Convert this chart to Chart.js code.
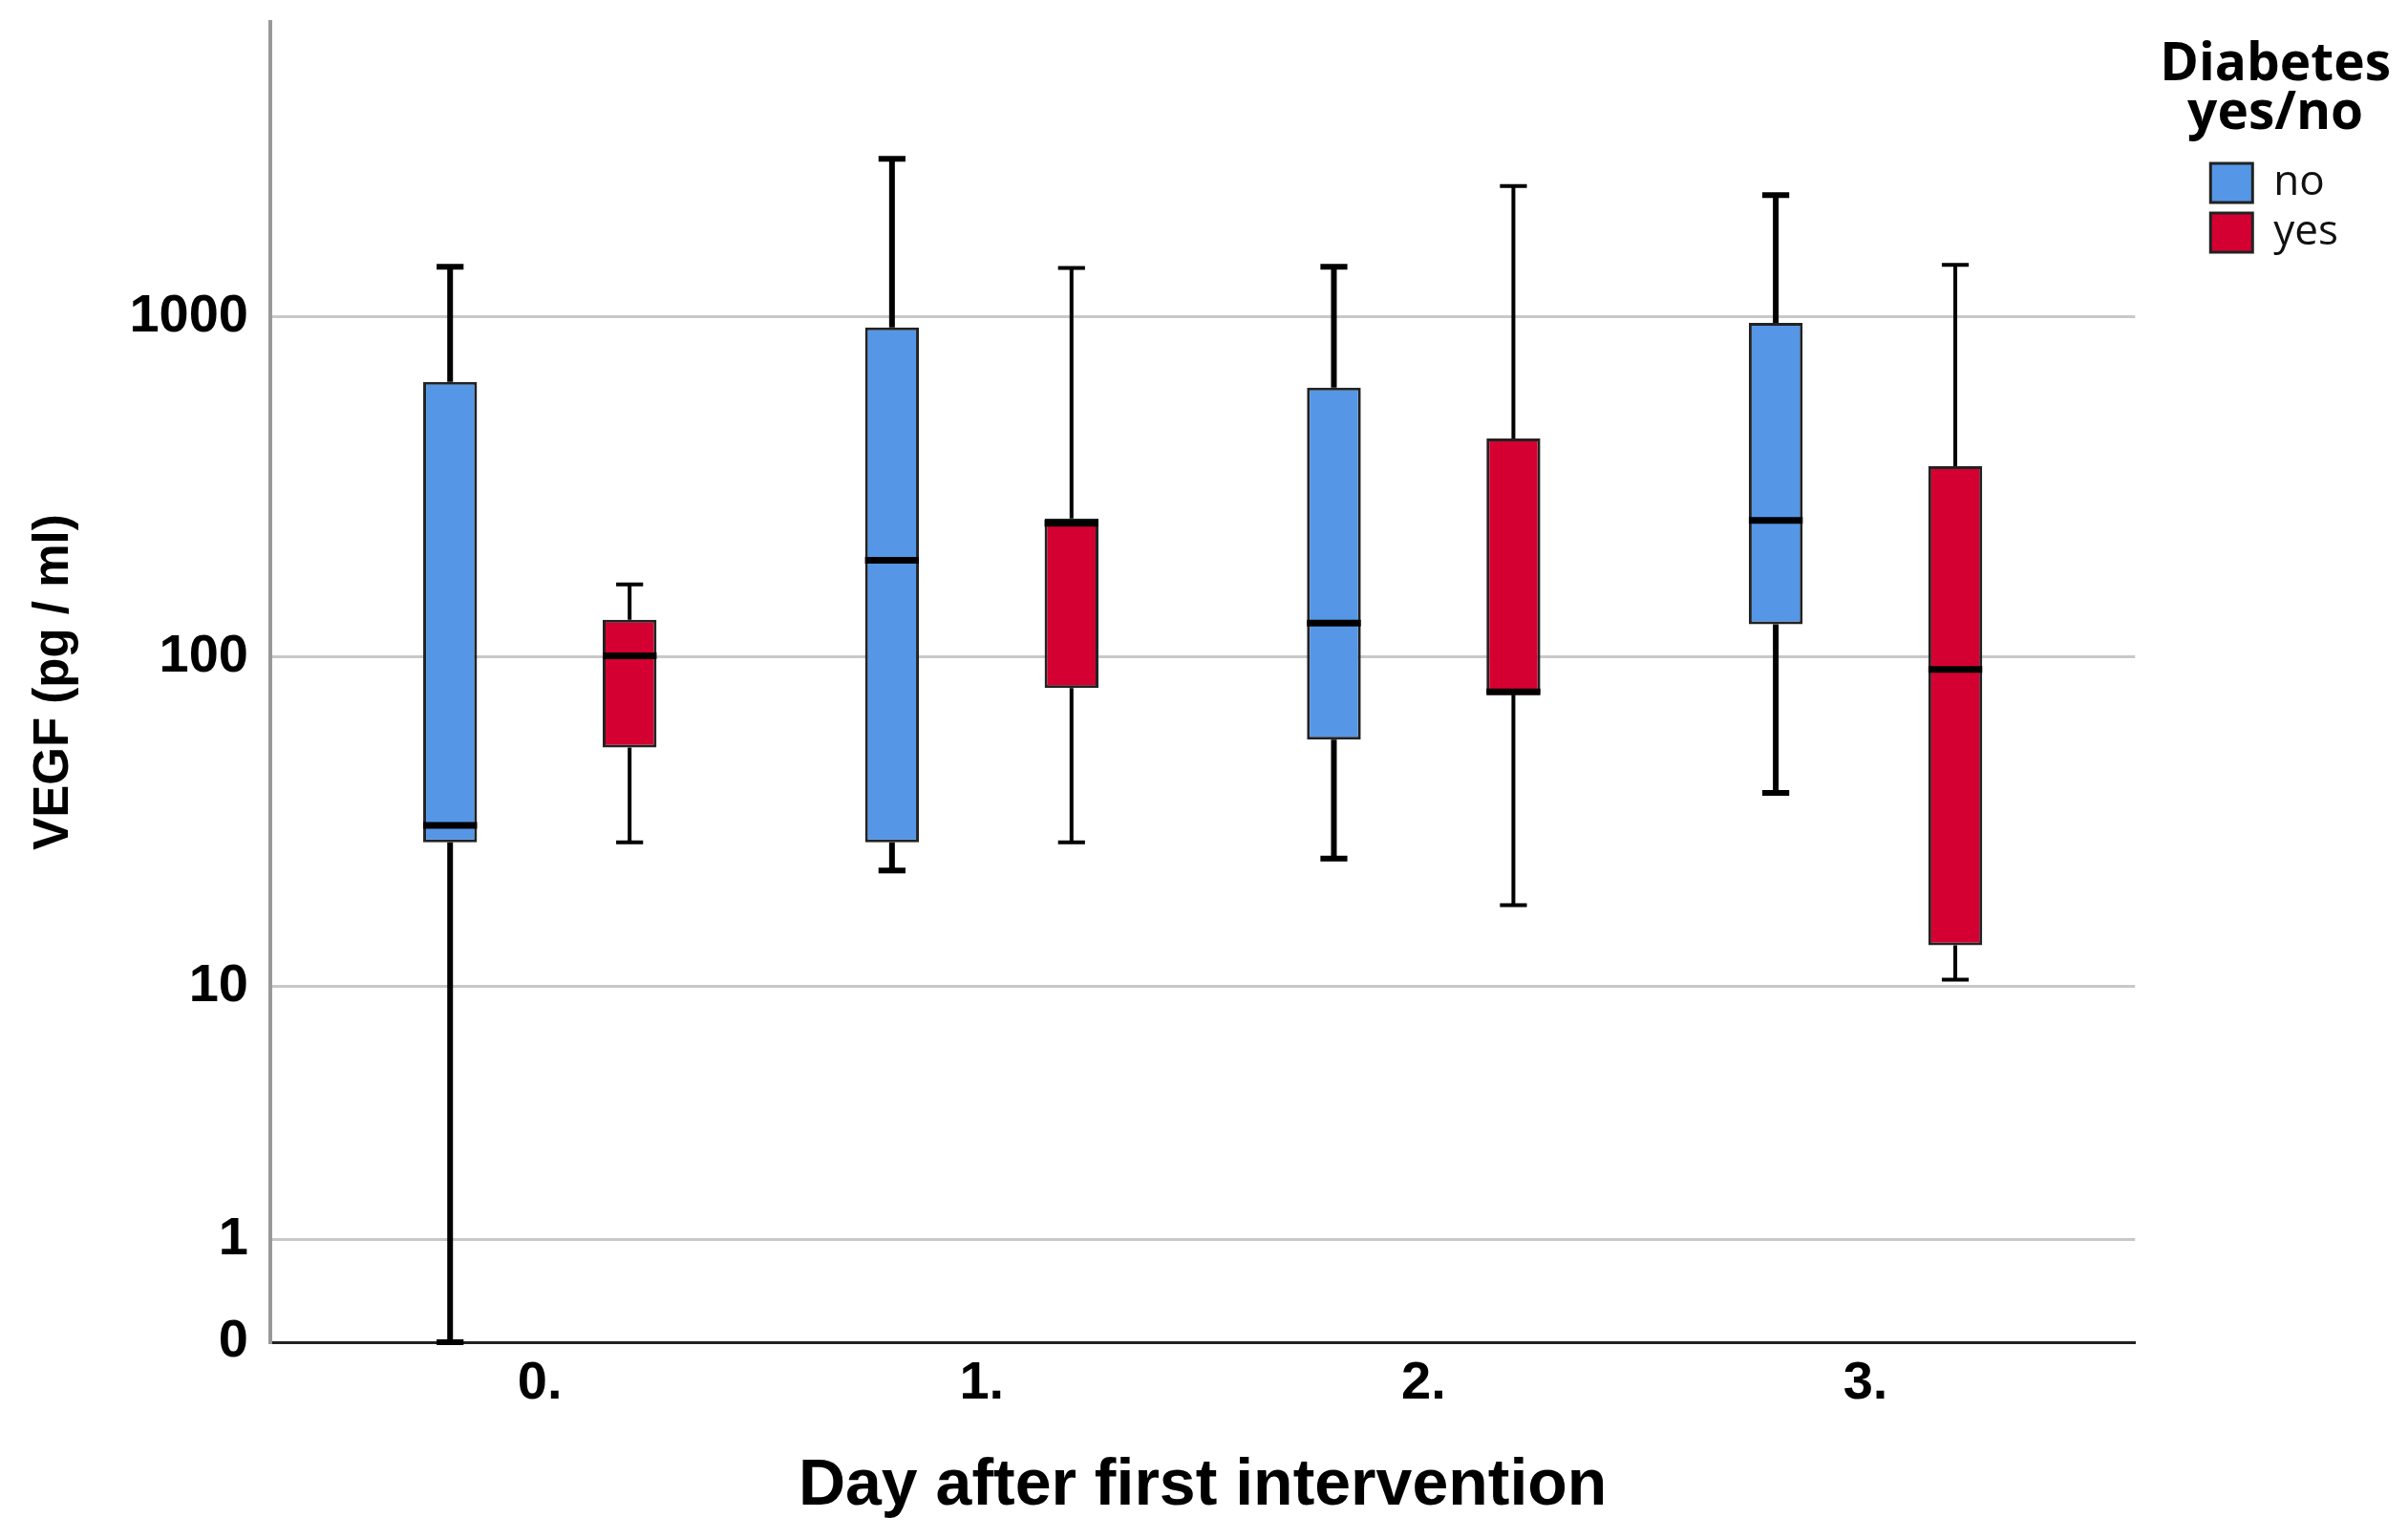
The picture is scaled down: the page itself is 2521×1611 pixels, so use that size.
<!DOCTYPE html>
<html>
<head>
<meta charset="utf-8">
<script src="https://cdn.jsdelivr.net/npm/chart.js@4.4.1/dist/chart.umd.min.js"></script>
<style>
  body { margin: 0; background: #fff; }
  #wrap { width: 2521px; height: 1611px; }
</style>
</head>
<body>
<div id="wrap"><canvas id="myChart" width="2521" height="1611"></canvas></div>
<script>
const days = ["0.", "1.", "2.", "3."];
const yTickValues = [0, 1, 10, 100, 1000];
const legendTitle = ["Diabetes", "yes/no"];

// Diabetes: no
const noMin = [0, 23, 25, 39.5];
const noQ1 = [28, 28, 57, 125];
const noMedian = [31.5, 193, 126, 253];
const noQ3 = [645, 930, 620, 960];
const noMax = [1400, 2900, 1400, 2270];

// Diabetes: yes
const yesMin = [28, 28, 18, 10.5];
const yesQ1 = [54, 81, 78, 13.5];
const yesMedian = [101, 248, 79, 92];
const yesQ3 = [129, 256, 440, 365];
const yesMax = [164, 1390, 2415, 1420];

// the axis is log10(v + 1), so 0 still fits on it
function tr(v) {
    return Math.log10(v + 1);
}

function boxData(q1, q3) {
    return days.map((d, i) => ({ x: i, y: [tr(q1[i]), tr(q3[i])] }));
}

const tickFont = { family: '"Liberation Sans", Arial, sans-serif', size: 56, weight: "bold" };

// whiskers, caps and medians
const whiskerPlugin = {
    id: "whiskers",
    afterDatasetsDraw(chart) {
        const ctx = chart.ctx;
        const yScale = chart.scales.y;
        chart.data.datasets.forEach((ds, di) => {
            const meta = chart.getDatasetMeta(di);
            meta.data.forEach((bar, i) => {
                const x = bar.x;
                const half = bar.width / 2;
                const yMin = yScale.getPixelForValue(tr(ds.stats.min[i]));
                const yQ1 = yScale.getPixelForValue(tr(ds.stats.q1[i]));
                const yMed = yScale.getPixelForValue(tr(ds.stats.median[i]));
                const yQ3 = yScale.getPixelForValue(tr(ds.stats.q3[i]));
                const yMax = yScale.getPixelForValue(tr(ds.stats.max[i]));
                ctx.save();
                ctx.strokeStyle = "#000";
                ctx.lineWidth = ds.whiskerWidth;
                ctx.beginPath();
                ctx.moveTo(x, yQ3);
                ctx.lineTo(x, yMax);
                ctx.moveTo(x - half / 2, yMax);
                ctx.lineTo(x + half / 2, yMax);
                ctx.moveTo(x, yQ1);
                ctx.lineTo(x, yMin);
                ctx.moveTo(x - half / 2, yMin);
                ctx.lineTo(x + half / 2, yMin);
                ctx.stroke();
                ctx.lineWidth = 7;
                ctx.beginPath();
                ctx.moveTo(x - half, yMed);
                ctx.lineTo(x + half, yMed);
                ctx.stroke();
                ctx.restore();
            });
        });
    },
};

// the legend box is narrower than its title, so the title is drawn here, over the legend's centre
const legendTitlePlugin = {
    id: "legendTitle",
    afterDraw(chart) {
        const lg = chart.legend;
        const ctx = chart.ctx;
        ctx.save();
        ctx.font = 'bold 55px "Open Sans", sans-serif';
        ctx.fillStyle = "#000";
        ctx.textAlign = "center";
        ctx.textBaseline = "middle";
        legendTitle.forEach((line, i) => {
            ctx.fillText(line, lg.left + lg.width / 2, lg.top + 45 + i * 51);
        });
        ctx.restore();
    },
};

const data = {
    datasets: [
        {
            label: "no",
            data: boxData(noQ1, noQ3),
            stats: { min: noMin, q1: noQ1, median: noMedian, q3: noQ3, max: noMax },
            backgroundColor: "#5596E6",
            borderColor: "#222",
            borderWidth: 3,
            borderSkipped: false,
            whiskerWidth: 6,
        },
        {
            label: "yes",
            data: boxData(yesQ1, yesQ3),
            stats: { min: yesMin, q1: yesQ1, median: yesMedian, q3: yesQ3, max: yesMax },
            backgroundColor: "#D50032",
            borderColor: "#222",
            borderWidth: 3,
            borderSkipped: false,
            whiskerWidth: 4,
        },
    ],
};

const config = {
    type: "bar",
    data: data,
    options: {
        responsive: false,
        animation: false,
        devicePixelRatio: 1,
        categoryPercentage: 0.8125,
        barPercentage: 0.3,
        layout: { padding: { top: 23, right: 63, bottom: 0, left: 0 } },
        scales: {
            x: {
                type: "linear",
                offset: false,
                min: -0.61,
                max: 3.61,
                afterBuildTicks: (s) => {
                    s.ticks = days.map((d, i) => ({ value: i }));
                },
                afterFit: (s) => {
                    s.height = 206;
                    s.paddingLeft = 0;
                    s.paddingRight = 0;
                },
                ticks: {
                    callback: (v, i) => days[i],
                    font: tickFont,
                    color: "#000",
                    padding: 10,
                    autoSkip: false,
                    maxRotation: 0,
                },
                grid: { display: false, drawTicks: false },
                border: { color: "#222", width: 3 },
                title: {
                    display: true,
                    text: "Day after first intervention",
                    font: { family: '"Liberation Sans", Arial, sans-serif', size: 68, weight: "bold" },
                    color: "#000",
                    padding: { bottom: 14 },
                },
            },
            y: {
                min: 0,
                max: 3.863,
                afterBuildTicks: (s) => {
                    s.ticks = yTickValues.map((v) => ({ value: tr(v) }));
                },
                afterFit: (s) => {
                    s.width = 283;
                    s.paddingTop = 0;
                    s.paddingBottom = 0;
                },
                ticks: {
                    callback: (v, i) => yTickValues[i],
                    font: tickFont,
                    color: "#000",
                    padding: 23,
                },
                grid: {
                    drawTicks: false,
                    color: (c) => (c.index === 0 ? "rgba(0,0,0,0)" : "#c8c8c8"),
                    lineWidth: 3,
                },
                border: { color: "#999", width: 4 },
                title: {
                    display: true,
                    text: "VEGF (pg / ml)",
                    font: { family: '"Liberation Sans", Arial, sans-serif', size: 51, weight: "bold" },
                    color: "#000",
                    padding: { top: 26 },
                },
            },
            // empty axis, only keeps a gap before the legend
            y2: {
                type: "linear",
                position: "right",
                grid: { display: false, drawTicks: false },
                border: { display: false },
                ticks: { display: false },
                afterFit: (s) => {
                    s.width = 71;
                    s.paddingTop = 0;
                    s.paddingBottom = 0;
                },
            },
        },
        plugins: {
            tooltip: { enabled: false },
            legend: {
                position: "right",
                align: "start",
                // blank title: keeps room above the items for the two-line title
                title: {
                    display: true,
                    text: "",
                    font: { family: '"Open Sans", sans-serif', size: 55, weight: "bold", lineHeight: "48px" },
                    padding: { top: 17.5, bottom: 73 },
                },
                labels: {
                    font: { family: '"Open Sans", sans-serif', size: 44 },
                    color: "#111",
                    boxWidth: 44,
                    boxHeight: 41,
                    padding: 8,
                },
            },
        },
    },
    plugins: [whiskerPlugin, legendTitlePlugin],
};

const myChart = new Chart(document.getElementById("myChart"), config);
</script>
</body>
</html>
